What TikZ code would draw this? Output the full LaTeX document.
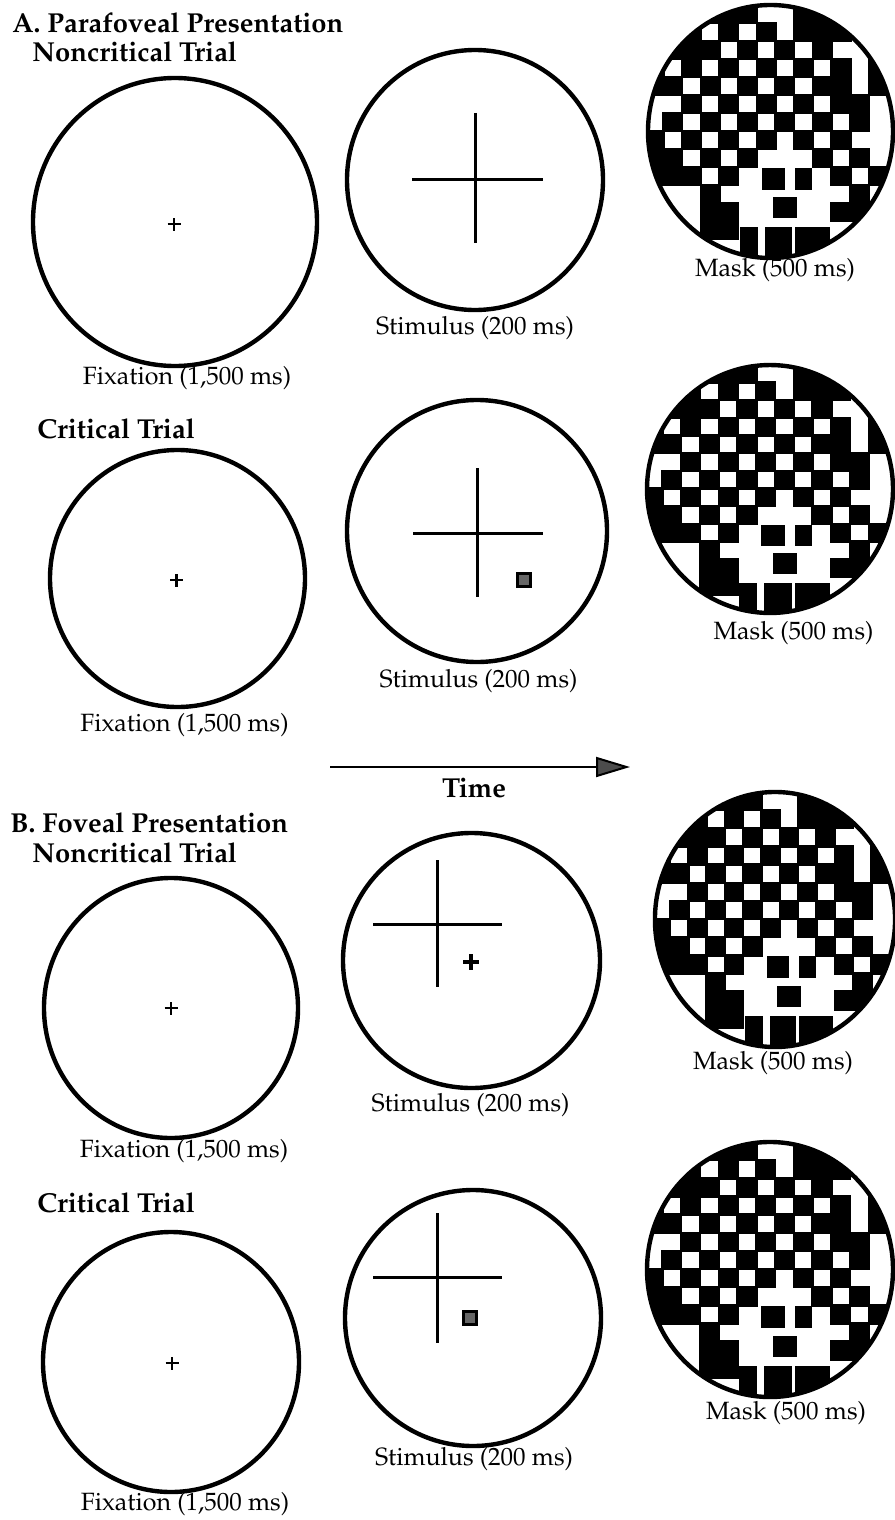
\documentclass[tikz,border=0pt]{standalone}
\usepackage[T1]{fontenc}
\usepackage{mathpazo}
\usetikzlibrary{shapes.geometric,arrows.meta}
\tikzset{
  maskpic/.pic={
    \begin{scope}
      \clip (0,0) ellipse [x radius=122.5, y radius=126.5];
      \foreach \rowlist [count=\r from 0] in {
        {0,0,0,1,1,1,0,0,1,1,0,0,0},
        {1,0,1,0,1,0,1,0,1,1,1,0,1},
        {0,1,1,1,0,1,0,1,0,1,0,0,0},
        {1,0,1,0,1,0,1,0,1,0,1,0,1},
        {1,1,0,1,0,1,0,1,0,1,1,0,1},
        {0,0,1,0,1,0,1,0,1,0,1,1,0},
        {0,1,0,1,0,1,0,1,0,1,0,1,0},
        {1,0,1,0,1,0,1,0,1,0,1,0,0},
        {1,1,0,1,0,1,0,0,0,1,0,1,0},
        {1,1,1,0,1,0,0,0,0,0,1,0,1},
        {0,0,0,1,0,0,0,0,0,0,0,1,0},
        {1,0,0,1,1,0,0,0,0,0,1,1,1},
        {0,0,0,1,1,0,0,0,0,0,0,0,0},
        {0,0,0,0,0,0,0,0,0,0,0,0,0}}{
        \foreach \v [count=\c from 0] in \rowlist {
          \ifnum\v=1
            \fill[black] ({-125.85+18.7*\c-1.2},{126.5-18*\r+1.2}) rectangle ++(21.1,-20.4);
          \fi
        }
      }
      % dark squares inside the white figure, lower centre
      \fill[black] (-8.5,-36.5) rectangle (14.5,-58.5);
      \fill[black] (24.5,-36.5) rectangle (41.5,-58.5);
      \fill[black] (2.5,-65.5) rectangle (26.5,-86.5);
      % dark blocks at the bottom, with narrow white slits
      \fill[black] (-30.5,-95.5) rectangle (-12.5,-135);
      \fill[black] (-5.5,-95.5) rectangle (21.5,-135);
      \fill[black] (24.5,-95.5) rectangle (59.5,-135);
    \end{scope}
    \draw[line width=2.2pt] (0,0) ellipse [x radius=122.5, y radius=126.5];
  },
  fixcross/.pic={
    \draw[line width=1.4pt] (-6.5,0) -- (6.5,0) (0,-6.5) -- (0,6.5);
  }
}
\begin{document}
\begin{tikzpicture}[x=0.5pt,y=0.5pt,
  disc/.style={draw, ellipse, line width=2.2pt, inner sep=0pt},
  lbl/.style={inner sep=0pt, anchor=base, font=\fontsize{12.5}{14}\selectfont},
  hdr/.style={inner sep=0pt, anchor=base west, font=\fontsize{13.7}{16}\selectfont\bfseries},
  bar/.style={line width=1.5pt},
  patch/.style={draw, fill=black!60, line width=1.2pt, minimum size=6.5pt, inner sep=0pt}
]
\fill[white] (0,0) rectangle (894,-1520);
\useasboundingbox (0,0) rectangle (894,-1520);

% ---------- headings ----------
\node[hdr] (hA) at (12,-33) {A. Parafoveal Presentation};
\node[hdr] (hA1) at (32,-62) {Noncritical Trial};
\node[hdr] (hA2) at (37,-438) {Critical Trial};
\node[hdr] (hB) at (10,-832) {B. Foveal Presentation};
\node[hdr] (hB1) at (32,-862) {Noncritical Trial};
\node[hdr] (hB2) at (37,-1212) {Critical Trial};

% ---------- A, noncritical ----------
\node[disc, minimum width=142pt, minimum height=144pt] (fixA1) at (175,-222) {};
\pic at (174,-224) {fixcross};
\node[lbl] (lfixA1) at (187,-384) {Fixation (1,500 ms)};

\node[disc, minimum width=128pt, minimum height=130pt] (stimA1) at (475,-180) {};
\draw[bar] (475,-113) -- (475,-243);
\draw[bar] (412,-179) -- (543,-179);
\node[lbl] (lstimA1) at (475,-334) {Stimulus (200 ms)};

\pic at (770.5,-131.5) {maskpic};
\node[lbl] (lmaskA1) at (775,-276) {Mask (500 ms)};

% ---------- A, critical ----------
\node[disc, minimum width=127.5pt, minimum height=128.5pt] (fixA2) at (177.5,-578.5) {};
\pic at (176.7,-580) {fixcross};
\node[lbl] (lfixA2) at (184.5,-731) {Fixation (1,500 ms)};

\node[disc, minimum width=130pt, minimum height=131pt] (stimA2) at (477,-531) {};
\draw[bar] (477,-468) -- (477,-597);
\draw[bar] (413,-533) -- (543,-533);
\node[patch] (sqA2) at (524,-580) {};
\node[lbl] (lstimA2) at (478.5,-687) {Stimulus (200 ms)};

\pic[xscale=1.004, yscale=0.98] at (770,-489) {maskpic};
\node[lbl] (lmaskA2) at (793.5,-639) {Mask (500 ms)};

% ---------- time arrow ----------
\coordinate (tS) at (330,-767);
\coordinate (tE) at (630,-767);
\draw[line width=1.3pt, -{Triangle[length=17pt,width=10pt,fill=black!70,line width=1pt]}] (tS) -- (tE);
\node[inner sep=0pt, anchor=base, font=\fontsize{13.7}{16}\selectfont\bfseries] (time) at (474,-797) {Time};

% ---------- B, noncritical ----------
\node[disc, minimum width=127pt, minimum height=130pt] (fixB1) at (171,-1008) {};
\pic at (171,-1008) {fixcross};
\node[lbl] (lfixB1) at (184,-1157) {Fixation (1,500 ms)};

\node[disc, minimum width=128.5pt, minimum height=127.5pt] (stimB1) at (471.5,-960.5) {};
\draw[bar] (437,-860) -- (437,-987);
\draw[bar] (373,-924) -- (502,-924);
\draw[line width=1.6pt] (463,-962) -- (479,-962) (471,-954) -- (471,-970);
\node[lbl] (lstimB1) at (470.5,-1111) {Stimulus (200 ms)};

\pic[xscale=0.98, yscale=1.008] at (775,-919.5) {maskpic};
\node[lbl] (lmaskB1) at (773,-1069) {Mask (500 ms)};

% ---------- B, critical ----------
\node[disc, minimum width=128pt, minimum height=130pt] (fixB2) at (171,-1362) {};
\pic at (172,-1363) {fixcross};
\node[lbl] (lfixB2) at (185,-1510) {Fixation (1,500 ms)};

\node[disc, minimum width=128pt, minimum height=128pt] (stimB2) at (473,-1318) {};
\draw[bar] (437,-1213) -- (437,-1343);
\draw[bar] (373,-1277) -- (502,-1277);
\node[patch] (sqB2) at (470,-1318) {};
\node[lbl] (lstimB2) at (474,-1465) {Stimulus (200 ms)};

\pic[xscale=1.004, yscale=1.008] at (770,-1269.5) {maskpic};
\node[lbl] (lmaskB2) at (786,-1419) {Mask (500 ms)};

\end{tikzpicture}
\end{document}
